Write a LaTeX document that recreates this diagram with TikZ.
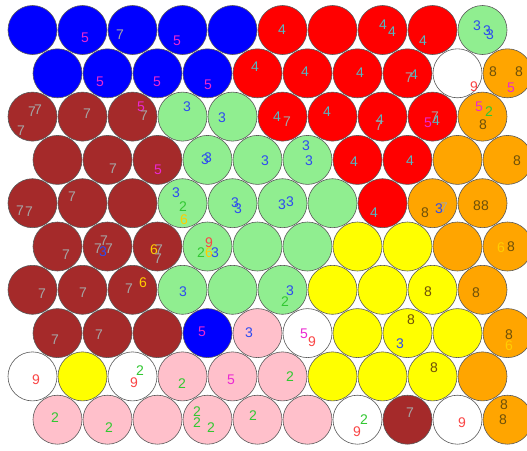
\PassOptionsToPackage{svgnames}{xcolor}
\documentclass[tikz,border=0pt]{standalone}
\usepackage{fontspec}
\setmainfont{Liberation Sans}
\definecolor{Digit2}{RGB}{50,200,50}
\definecolor{Digit3}{RGB}{45,75,240}
\definecolor{Digit4}{RGB}{85,185,195}
\definecolor{Digit5}{RGB}{235,40,210}
\definecolor{Digit6}{RGB}{255,205,0}
\definecolor{Digit7}{RGB}{165,165,165}
\definecolor{Digit8}{RGB}{110,80,10}
\definecolor{Digit9}{RGB}{250,70,70}
\colorlet{CellLine}{black!65}

\begin{document}
\begin{tikzpicture}[
    x=1pt, y=-1pt,
    cell/.style={circle, draw=CellLine, line width=0.6pt, fill=#1,
                 minimum size=49pt, inner sep=0pt},
    digit/.style={font=\fontsize{14}{14}\selectfont, text=Digit#1,
                  inner sep=0pt}
]
\useasboundingbox (0,0) rectangle (527,450);
\clip (0,0) rectangle (527,450);

% Cells, row by row
\foreach \r/\cl in {
    1/{Blue,Blue,Blue,Blue,Blue,Red,Red,Red,Red,LightGreen},
    2/{Blue,Blue,Blue,Blue,Red,Red,Red,Red,White,Orange},
    3/{Brown,Brown,Brown,LightGreen,LightGreen,Red,Red,Red,Red,Orange},
    4/{Brown,Brown,Brown,LightGreen,LightGreen,LightGreen,Red,Red,Orange,Orange},
    5/{Brown,Brown,Brown,LightGreen,LightGreen,LightGreen,LightGreen,Red,Orange,Orange},
    6/{Brown,Brown,Brown,LightGreen,LightGreen,LightGreen,Yellow,Yellow,Orange,Orange},
    7/{Brown,Brown,Brown,LightGreen,LightGreen,LightGreen,Yellow,Yellow,Yellow,Orange},
    8/{Brown,Brown,Brown,Blue,Pink,White,Yellow,Yellow,Yellow,Orange},
    9/{White,Yellow,White,Pink,Pink,Pink,Yellow,Yellow,Yellow,Orange},
    10/{Pink,Pink,Pink,Pink,Pink,Pink,White,Brown,White,Orange}} {
    \foreach \f [count=\k] in \cl {
        \pgfmathsetmacro\cx{32.5+50*(\k-1)+25*(1-mod(\r,2))}
        \pgfmathsetmacro\cy{30+43.3*(\r-1)}
        \node[cell=\f] (c\r-\k) at (\cx,\cy) {};
    }
}

% Labels
\foreach \x/\y/\d [count=\i] in {
    85/38/5, 120/35/7, 177/41/5, 282/30/4, 383/25/4, 392/32/4, 423/41/4,
    477/26/3, 487/31/3, 490/35/3,
    100/82/5, 157/82/5, 208/85/5, 255/67/4, 305/72/4, 360/73/4, 409/78/7,
    414/75/4, 474/87/9, 493/72/8, 519/72/8, 511/88/5,
    32/112/7, 38/110/7, 21/131/7, 87/114/7, 141/107/5, 144/116/7, 187/107/3,
    222/118/3, 277/117/4, 287/122/7, 327/112/4, 380/120/4, 379/126/7,
    428/123/5, 435/117/7, 436/121/4, 479/107/5, 489/112/2, 483/125/8,
    113/169/7, 158/170/5, 205/160/3, 208/158/3, 265/161/3, 306/146/3,
    309/161/3, 354/162/4, 410/161/4, 517/161/8,
    20/211/7, 29/212/7, 72/197/7, 176/193/3, 183/207/2, 184/220/6, 235/203/3,
    238/209/3, 282/205/3, 290/202/3, 374/213/4, 425/213/8, 439/209/3,
    444/208/7, 477/206/8, 485/206/8,
    66/255/7, 98/249/7, 104/241/7, 109/249/7, 103/252/3, 154/250/6, 159/250/7,
    158/259/7, 209/243/9, 201/253/2, 209/253/6, 215/253/3, 501/248/6, 511/247/8,
    42/294/7, 83/293/7, 129/289/7, 143/283/6, 183/292/3, 290/291/3, 285/302/2,
    428/292/8, 476/293/8,
    55/340/7, 99/335/7, 202/332/5, 249/333/3, 304/334/5, 312/342/9, 411/320/8,
    400/344/3, 509/335/8, 509/346/6,
    36/380/9, 140/371/2, 134/383/9, 182/384/2, 231/380/5, 290/377/2, 434/368/8,
    55/418/2, 109/428/2, 197/412/2, 197/423/2, 211/428/2, 253/416/2, 364/420/2,
    357/432/9, 410/413/7, 462/423/9, 504/405/8, 503/420/8} {
    \node[digit=\d] (n\i) at (\x,\y) {\d};
}

\end{tikzpicture}
\end{document}
